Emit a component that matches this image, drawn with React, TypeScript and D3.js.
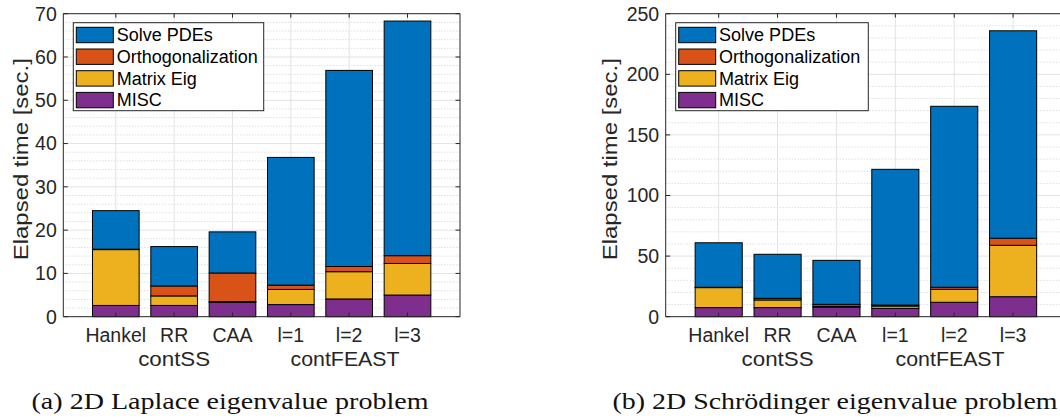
import React from "react";
import * as d3 from "d3";

const categories = ["Hankel", "RR", "CAA", "l=1", "l=2", "l=3"];
const groupLabels = ["contSS", "contFEAST"];
const groupPositions = [2, 4.93];
const seriesNames = ["MISC", "Matrix Eig", "Orthogonalization", "Solve PDEs"];
const seriesColors = ["#7E2F8E", "#EDB120", "#D95319", "#0072BD"];

// (a) 2D Laplace
const laplaceMisc = [2.6, 2.6, 3.3, 2.8, 4.1, 5.0];
const laplaceEig = [12.9, 2.2, 0.2, 3.5, 6.3, 7.3];
const laplaceOrth = [0.1, 2.3, 6.6, 1.0, 1.2, 1.8];
const laplacePde = [8.9, 9.1, 9.5, 29.5, 45.3, 54.2];
const laplaceTicks = [0, 10, 20, 30, 40, 50, 60, 70];

// (b) 2D Schrödinger
const schrMisc = [7.5, 7.5, 7.8, 6.9, 11.9, 16.5];
const schrEig = [16.5, 6.3, 0.8, 1.9, 10.7, 42.4];
const schrOrth = [0.3, 1.4, 1.6, 0.8, 1.7, 5.8];
const schrPde = [36.7, 36.3, 36.3, 112.0, 149.3, 171.2];
const schrTicks = [0, 50, 100, 150, 200, 250];

const W = 1060;
const H = 419;
const AX = "#262626";
const FONT = "'Liberation Sans', Arial, sans-serif";

type PanelProps = {
  left: number;
  right: number;
  top: number;
  bottom: number;
  ticks: number[];
  minorPerMajor: number;
  series: number[][];
  caption: string;
  captionCenter: number;
  captionLength: number;
  legendWidth: number;
  yLabelX: number;
};

function Panel(p: PanelProps) {
  const yMax = p.ticks[p.ticks.length - 1];
  const x = d3.scaleLinear().domain([0.1, 6.9]).range([p.left, p.right]);
  const y = d3.scaleLinear().domain([0, yMax]).range([p.bottom, p.top]);
  const step = p.ticks[1] - p.ticks[0];
  const minorStep = step / (p.minorPerMajor + 1);
  const minors: number[] = [];
  for (let v = 0; v <= yMax + 1e-9; v += minorStep) {
    const r = v / step;
    if (Math.abs(r - Math.round(r)) > 1e-6) minors.push(v);
  }
  const table = categories.map((c, i) => {
    const o: any = { cat: c, idx: i + 1 };
    seriesNames.forEach((s, k) => (o[s] = p.series[k][i]));
    return o;
  });
  const stacked = d3.stack<any>().keys(seriesNames)(table);
  const bw = 0.8;
  const legendTop = p.top + 9;
  const legendLeft = p.left + 10;
  const rowH = 21.7;
  const legendOrder = [...seriesNames.keys()].reverse();
  const clipId = "clip" + Math.round(p.left);

  return (
    <g>
      <defs>
        <clipPath id={clipId}>
          <rect x={p.left} y={p.top} width={p.right - p.left} height={p.bottom - p.top} />
        </clipPath>
      </defs>
      {/* grid */}
      <g clipPath={`url(#${clipId})`}>
        {minors.map((v) => (
          <line key={"m" + v} x1={p.left} x2={p.right} y1={y(v)} y2={y(v)} stroke="#cfcfcf" strokeWidth={1} strokeDasharray="1,2" />
        ))}
        {p.ticks.map((v) => (
          <line key={"g" + v} x1={p.left} x2={p.right} y1={y(v)} y2={y(v)} stroke="#e3e3e3" strokeWidth={1} />
        ))}
        {categories.map((c, i) => (
          <line key={"v" + c} x1={x(i + 1)} x2={x(i + 1)} y1={p.top} y2={p.bottom} stroke="#e3e3e3" strokeWidth={1} />
        ))}
      </g>
      {/* bars */}
      {stacked.map((layer, k) => (
        <g key={layer.key} fill={seriesColors[k]} stroke="#000" strokeWidth={1}>
          {layer.map((d: any, i: number) => (
            <rect
              key={i}
              x={x(d.data.idx - bw / 2)}
              width={x(bw) - x(0)}
              y={y(d[1])}
              height={Math.max(0, y(d[0]) - y(d[1]))}
            />
          ))}
        </g>
      ))}
      {/* axes box */}
      <g stroke={AX} strokeWidth={1}>
        <line x1={p.left} x2={p.left} y1={p.top} y2={p.bottom} />
        <line x1={p.right} x2={p.right} y1={p.top} y2={p.bottom} />
        <line x1={p.left} x2={p.right} y1={p.top} y2={p.top} />
        <line x1={p.left} x2={p.right} y1={p.bottom} y2={p.bottom} />
        {p.ticks.map((v) => (
          <g key={"t" + v}>
            <line x1={p.left} x2={p.left + 4.5} y1={y(v)} y2={y(v)} />
            <line x1={p.right} x2={p.right - 4.5} y1={y(v)} y2={y(v)} />
          </g>
        ))}
        {categories.map((c, i) => (
          <g key={"xt" + c}>
            <line x1={x(i + 1)} x2={x(i + 1)} y1={p.bottom} y2={p.bottom - 4} />
            <line x1={x(i + 1)} x2={x(i + 1)} y1={p.top} y2={p.top + 4} />
          </g>
        ))}
      </g>
      {/* y tick labels */}
      <g fontFamily={FONT} fontSize={19.5} fill={AX} textAnchor="end">
        {p.ticks.map((v) => (
          <text key={"yl" + v} x={p.left - 6.5} y={y(v)} dy="0.35em">
            {d3.format("d")(v)}
          </text>
        ))}
      </g>
      {/* x tick labels */}
      <g fontFamily={FONT} fontSize={19.5} fill={AX} textAnchor="middle">
        {categories.map((c, i) => (
          <text key={"xl" + c} x={x(i + 1)} y={p.bottom + 25}>
            {c}
          </text>
        ))}
        {groupLabels.map((g, i) => (
          <text key={"gl" + g} x={x(groupPositions[i])} y={p.bottom + 49.5}
            textLength={g.length > 6 ? 109 : 72} lengthAdjust="spacingAndGlyphs">
            {g}
          </text>
        ))}
      </g>
      {/* y label */}
      <text
        transform={`translate(${p.yLabelX},${(p.top + p.bottom) / 2 - 6}) rotate(-90)`}
        textAnchor="middle"
        dy="0.35em"
        fontFamily={FONT}
        fontSize={20}
        fill={AX}
        textLength={202}
        lengthAdjust="spacingAndGlyphs"
      >
        Elapsed time [sec.]
      </text>
      {/* legend */}
      <g>
        <rect x={legendLeft} y={legendTop} width={p.legendWidth} height={88} fill="#fff" stroke={AX} strokeWidth={1} />
        {legendOrder.map((k, r) => (
          <g key={"lg" + k}>
            <rect x={legendLeft + 3} y={legendTop + 4.6 + r * rowH} width={37} height={15.4} fill={seriesColors[k]} stroke="#000" strokeWidth={1} />
            <text x={legendLeft + 43.4} y={legendTop + 12.3 + r * rowH} dy="0.35em" fontFamily={FONT} fontSize={18} fill="#000">
              {seriesNames[k]}
            </text>
          </g>
        ))}
      </g>
      {/* caption */}
      <text
        x={p.captionCenter}
        y={409}
        textAnchor="middle"
        fontFamily="'Liberation Serif', 'Times New Roman', serif"
        fontSize={23}
        fill="#111"
        textLength={p.captionLength}
        lengthAdjust="spacingAndGlyphs"
      >
        {p.caption}
      </text>
    </g>
  );
}

export default function App() {
  return (
    <svg
      width={W}
      height={H}
      viewBox={`0 0 ${W} ${H}`}
      style={{ position: "absolute", left: 0, top: 0, background: "#fff" }}
    >
      <rect x={0} y={0} width={W} height={H} fill="#fff" />
      <Panel
        left={63.3}
        right={460}
        top={13.7}
        bottom={316.7}
        ticks={laplaceTicks}
        minorPerMajor={4}
        series={[laplaceMisc, laplaceEig, laplaceOrth, laplacePde]}
        caption="(a) 2D Laplace eigenvalue problem"
        captionCenter={230}
        captionLength={397}
        legendWidth={190.4}
        yLabelX={21}
      />
      <Panel
        left={665.7}
        right={1066.1}
        top={13.7}
        bottom={316.7}
        ticks={schrTicks}
        minorPerMajor={4}
        series={[schrMisc, schrEig, schrOrth, schrPde]}
        caption="(b) 2D Schrödinger eigenvalue problem"
        captionCenter={835}
        captionLength={445}
        legendWidth={192.6}
        yLabelX={609.7}
      />
    </svg>
  );
}
